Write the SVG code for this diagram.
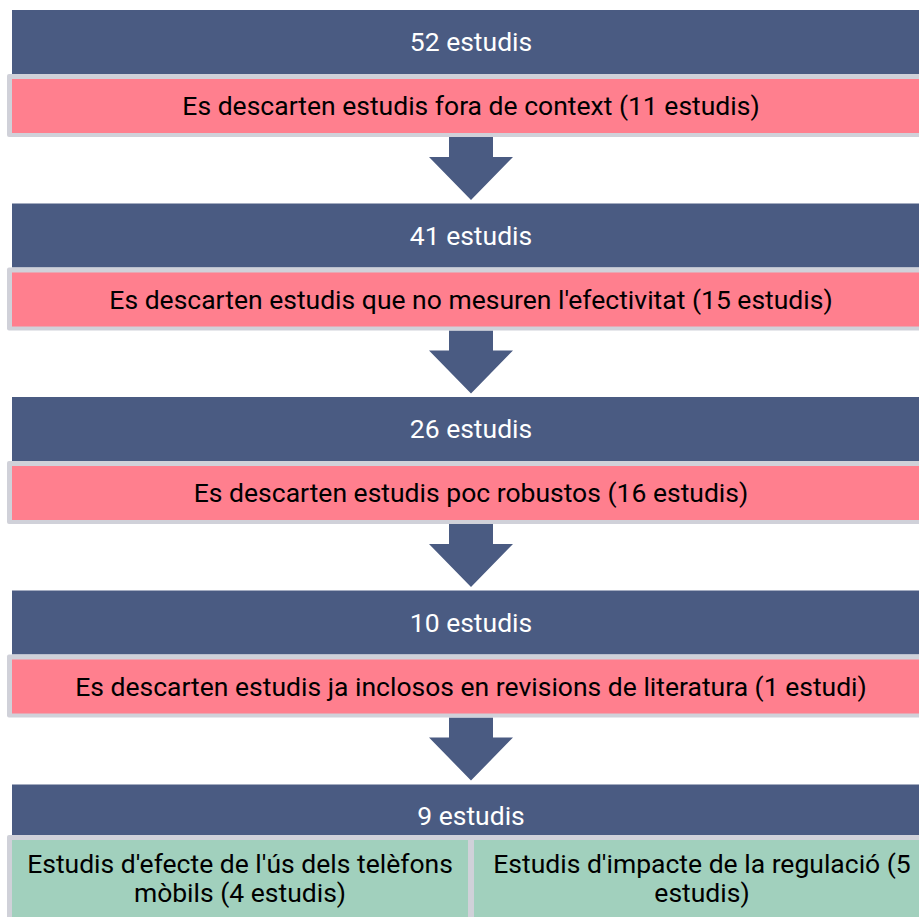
<svg xmlns="http://www.w3.org/2000/svg" width="919" height="917" viewBox="0 0 919 917">
<style>
.dark{fill:#4a5b82}
.frame{fill:#d0d1d9}
.pink{fill:#ff7f8e}
.green{fill:#a1d0bd}
.arrow{fill:#4a5b82}
text{font-family:Roboto,"Liberation Sans",sans-serif;font-size:26.5px;font-weight:400;text-anchor:middle}
.wt{fill:#ffffff}
.bt{fill:#000000}
</style>
<rect width="919" height="917" fill="#ffffff"/>
<g id="connectors">
<polygon class="arrow" points="449,137 493,137 493,157 513,157 471,200 429,157 449,157"/>
<polygon class="arrow" points="449,330.5 493,330.5 493,350.5 513,350.5 471,393.5 429,350.5 449,350.5"/>
<polygon class="arrow" points="449,524 493,524 493,544 513,544 471,587 429,544 449,544"/>
<polygon class="arrow" points="449,717.5 493,717.5 493,737.5 513,737.5 471,780.5 429,737.5 449,737.5"/>
</g>
<g id="n1">
<rect class="dark" x="12" y="10" width="920" height="64"/>
<text class="wt" x="471" y="51">52 estudis</text>
</g>
<g id="f1">
<rect class="frame" x="7" y="74" width="930" height="63" rx="2"/>
<rect class="pink" x="12" y="79" width="920" height="54"/>
<text class="bt" x="471" y="115">Es descarten estudis fora de context (11 estudis)</text>
</g>
<g id="n2">
<rect class="dark" x="12" y="203.5" width="920" height="64"/>
<text class="wt" x="471" y="244.5">41 estudis</text>
</g>
<g id="f2">
<rect class="frame" x="7" y="267.5" width="930" height="63" rx="2"/>
<rect class="pink" x="12" y="272.5" width="920" height="54"/>
<text class="bt" x="471" y="308.5">Es descarten estudis que no mesuren l'efectivitat (15 estudis)</text>
</g>
<g id="n3">
<rect class="dark" x="12" y="397" width="920" height="64"/>
<text class="wt" x="471" y="438">26 estudis</text>
</g>
<g id="f3">
<rect class="frame" x="7" y="461" width="930" height="63" rx="2"/>
<rect class="pink" x="12" y="466" width="920" height="54"/>
<text class="bt" x="471" y="502">Es descarten estudis poc robustos (16 estudis)</text>
</g>
<g id="n4">
<rect class="dark" x="12" y="590.5" width="920" height="64"/>
<text class="wt" x="471" y="631.5">10 estudis</text>
</g>
<g id="f4">
<rect class="frame" x="7" y="654.5" width="930" height="63" rx="2"/>
<rect class="pink" x="12" y="659.5" width="920" height="54"/>
<text class="bt" x="471" y="695.5">Es descarten estudis ja inclosos en revisions de literatura (1 estudi)</text>
</g>
<g id="n5">
<rect class="dark" x="12" y="784.5" width="920" height="50.5"/>
<text class="wt" x="471" y="825">9 estudis</text>
</g>
<g id="g1">
<rect class="frame" x="7" y="835" width="467" height="90" rx="2"/>
<rect class="green" x="12" y="840" width="456" height="85"/>
<text class="bt" x="240" y="873">Estudis d'efecte de l'ús dels telèfons</text>
<text class="bt" x="240" y="902">mòbils (4 estudis)</text>
</g>
<g id="g2">
<rect class="frame" x="468" y="835" width="470" height="90"/>
<rect class="green" x="474" y="840" width="458" height="85"/>
<text class="bt" x="702" y="873">Estudis d'impacte de la regulació (5</text>
<text class="bt" x="702" y="902">estudis)</text>
</g>
</svg>
